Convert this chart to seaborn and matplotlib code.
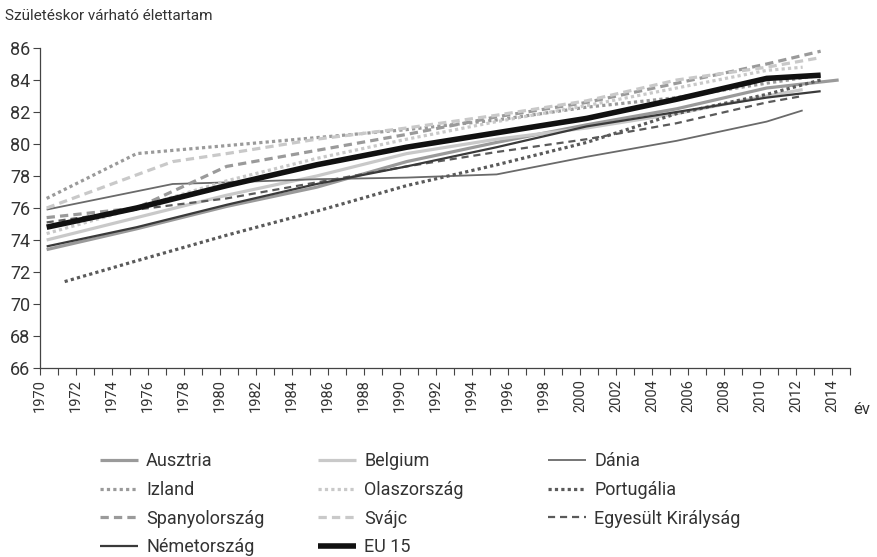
import numpy as np
import pandas as pd
import matplotlib
matplotlib.use("Agg")
import matplotlib.pyplot as plt
import seaborn as sns

# ---------------- data ----------------
yrs_std = [1970, 1975, 1980, 1985, 1990, 1995, 2000, 2005, 2010]

ausztria_years = yrs_std + [2014]
ausztria_vals = [73.4, 74.7, 76.1, 77.3, 78.9, 80.1, 81.2, 82.2, 83.5, 84.0]

belgium_years = yrs_std + [2012]
belgium_vals = [74.0, 75.4, 76.8, 78.0, 79.4, 80.3, 81.0, 81.9, 83.0, 83.4]

dania_years = [1970, 1977, 1980, 1985, 1990, 1995, 2000, 2005, 2010, 2012]
dania_vals = [75.9, 77.5, 77.6, 77.8, 77.9, 78.1, 79.2, 80.2, 81.4, 82.1]

izland_years = yrs_std + [2013]
izland_vals = [76.6, 79.4, 79.9, 80.4, 80.9, 81.5, 82.3, 82.9, 83.8, 84.3]

olasz_years = yrs_std + [2012]
olasz_vals = [74.4, 76.0, 77.7, 79.1, 80.3, 81.4, 82.4, 83.5, 84.6, 84.8]

portugal_years = [1971, 1975, 1980, 1985, 1990, 1995, 2000, 2005, 2010, 2013]
portugal_vals = [71.4, 72.7, 74.3, 75.8, 77.4, 78.7, 80.1, 81.9, 83.1, 84.0]

spanyol_years = yrs_std + [2013]
spanyol_vals = [75.4, 76.0, 78.6, 79.6, 80.6, 81.7, 82.6, 83.8, 85.0, 85.8]

svajc_years = [1970, 1977, 1980, 1985, 1990, 1995, 2000, 2005, 2010, 2013]
svajc_vals = [76.0, 78.9, 79.4, 80.3, 81.0, 81.8, 82.7, 84.0, 84.8, 85.4]

uk_years = yrs_std + [2012]
uk_vals = [75.1, 75.9, 76.6, 77.6, 78.6, 79.5, 80.3, 81.3, 82.6, 83.0]

nemet_years = yrs_std + [2013]
nemet_vals = [73.6, 74.8, 76.2, 77.5, 78.6, 79.8, 81.1, 82.0, 82.9, 83.3]

eu15_years = yrs_std + [2013]
eu15_vals = [74.8, 76.0, 77.4, 78.7, 79.8, 80.7, 81.6, 82.8, 84.1, 84.3]

series_names = ["Ausztria", "Belgium", "Dánia", "Izland", "Olaszország", "Portugália",
                "Spanyolország", "Svájc", "Egyesült Királyság", "Németország", "EU 15"]
series_years = [ausztria_years, belgium_years, dania_years, izland_years, olasz_years,
                portugal_years, spanyol_years, svajc_years, uk_years, nemet_years, eu15_years]
series_vals = [ausztria_vals, belgium_vals, dania_vals, izland_vals, olasz_vals,
               portugal_vals, spanyol_vals, svajc_vals, uk_vals, nemet_vals, eu15_vals]

y_label = "Születéskor várható élettartam"
x_label = "év"

# ---------------- styles ----------------
DOT = (0, (1, 1))
DASH = (0, (2.6, 1.6))
styles = {
    "Ausztria":           dict(color="#9a9a9a", lw=2.3, ls="-"),
    "Belgium":            dict(color="#c9c9c9", lw=2.3, ls="-"),
    "Dánia":              dict(color="#6a6a6a", lw=1.3, ls="-"),
    "Izland":             dict(color="#9a9a9a", lw=2.3, ls=DOT),
    "Olaszország":        dict(color="#c9c9c9", lw=2.3, ls=DOT),
    "Portugália":         dict(color="#5a5a5a", lw=2.3, ls=DOT),
    "Spanyolország":      dict(color="#9a9a9a", lw=2.3, ls=DASH),
    "Svájc":              dict(color="#c9c9c9", lw=2.3, ls=DASH),
    "Egyesült Királyság": dict(color="#5a5a5a", lw=1.6, ls=(0, (3.2, 2.2))),
    "Németország":        dict(color="#3a3a3a", lw=1.6, ls="-"),
    "EU 15":              dict(color="#111111", lw=4.0, ls="-"),
}

sns.set_theme(style="white")
plt.rcParams["font.family"] = ["Roboto", "DejaVu Sans"]
TXT = "#333333"
FW = "normal"

fig = plt.figure(figsize=(8.78, 5.57), dpi=100)
ax = fig.add_axes([40 / 878, 1 - 368 / 557, (850 - 40) / 878, (368 - 48) / 557])

handles = {}
for name, yy, vv in zip(series_names, series_years, series_vals):
    df = pd.DataFrame({"year": yy, "value": vv})
    st = styles[name]
    sns.lineplot(data=df, x="year", y="value", ax=ax, color=st["color"],
                 linewidth=st["lw"], linestyle=st["ls"], label=name,
                 solid_capstyle="butt", dash_capstyle="butt", legend=False)
    handles[name] = ax.get_lines()[-1]

off = 0.37
ax.set_xlim(1970 - off, 2015 - off)
ax.set_ylim(66, 86)
ax.set_xticks(np.arange(1970, 2016) - off)
ax.set_xticklabels([str(y) if (y % 2 == 0 and y <= 2014) else "" for y in range(1970, 2016)],
                   rotation=90, fontsize=10.5, color=TXT, fontweight=FW)
ax.set_yticks(np.arange(66, 87, 2))
ax.set_yticklabels([str(v) for v in range(66, 87, 2)], fontsize=13, color=TXT,
                   fontweight=FW)
ax.tick_params(axis="both", direction="out", length=5, width=0.8, color="#444444",
               bottom=True, left=True, pad=3)
ax.tick_params(axis="y", pad=2)
for s in ["top", "right"]:
    ax.spines[s].set_visible(False)
for s in ["left", "bottom"]:
    ax.spines[s].set_color("#444444")
    ax.spines[s].set_linewidth(0.9)
ax.set_xlabel("")
ax.set_ylabel("")
ax.grid(False)

fig.text(5 / 878, 1 - 16 / 557, y_label, fontsize=11, color=TXT, va="center", ha="left",
         fontweight=FW)
fig.text(853 / 878, 1 - 409 / 557, x_label, fontsize=12, color=TXT, va="center", ha="left",
         fontweight=FW)

columns = [["Ausztria", "Izland", "Spanyolország", "Németország"],
           ["Belgium", "Olaszország", "Svájc", "EU 15"],
           ["Dánia", "Portugália", "Egyesült Királyság"]]
col_x = [100, 318, 548]
for names, cx in zip(columns, col_x):
    leg = fig.legend([handles[n] for n in names], names, ncol=1, frameon=False,
                     loc="upper left", bbox_to_anchor=(cx / 878, 1 - 452 / 557),
                     handlelength=2.1, handletextpad=0.45,
                     labelspacing=0.6, borderpad=0, borderaxespad=0,
                     prop={"size": 13, "weight": FW})
    for t in leg.get_texts():
        t.set_color(TXT)

fig.savefig("out.png", dpi=100)
